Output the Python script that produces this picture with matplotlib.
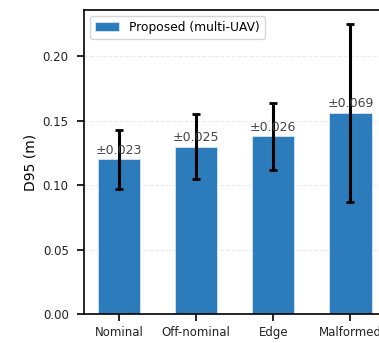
import numpy as np
import matplotlib
matplotlib.use('Agg')
import matplotlib.pyplot as plt

categories = ['Nominal', 'Off-nominal', 'Edge', 'Malformed']
d95 = [0.120, 0.130, 0.138, 0.156]
d95_std = [0.023, 0.025, 0.026, 0.069]

fig = plt.figure(figsize=(3.79, 3.43), dpi=100)
# axes runs a bit past the right edge, like the cropped original
ax = fig.add_axes([0.2216, 0.0845, 0.8045, 0.8865])

x = np.arange(len(categories))
ax.bar(x, d95, width=0.55, yerr=d95_std, color='#2c7bba',
       edgecolor='#d6e6f2', linewidth=0.6, label='Proposed (multi-UAV)',
       error_kw=dict(ecolor='black', elinewidth=2.2, capsize=3, capthick=2))

for xi, v, s in zip(x, d95, d95_std):
    ax.text(xi, v + 0.002, '\u00b1%.3f' % s, ha='center', va='bottom',
            fontsize=9, color='#444444')

ax.set_xticks(x)
ax.set_xticklabels(categories, fontsize=8.5, color='#222222')
ax.tick_params(axis='y', labelsize=8.5, labelcolor='#222222', pad=6)
ax.tick_params(length=5, width=1.2)
ax.set_xlim(-0.455, 3.5)
ax.set_ylim(0, 0.236)
ax.set_yticks([0.0, 0.05, 0.10, 0.15, 0.20])
ax.set_ylabel('D95 (m)', fontsize=10)
for sp in ax.spines.values():
    sp.set_linewidth(1.2)
ax.yaxis.grid(True, linestyle='--', color='#dddddd', alpha=0.6)
ax.set_axisbelow(True)
ax.legend(loc='upper left', fontsize=8.8)

fig.savefig('out.png', dpi=100)
